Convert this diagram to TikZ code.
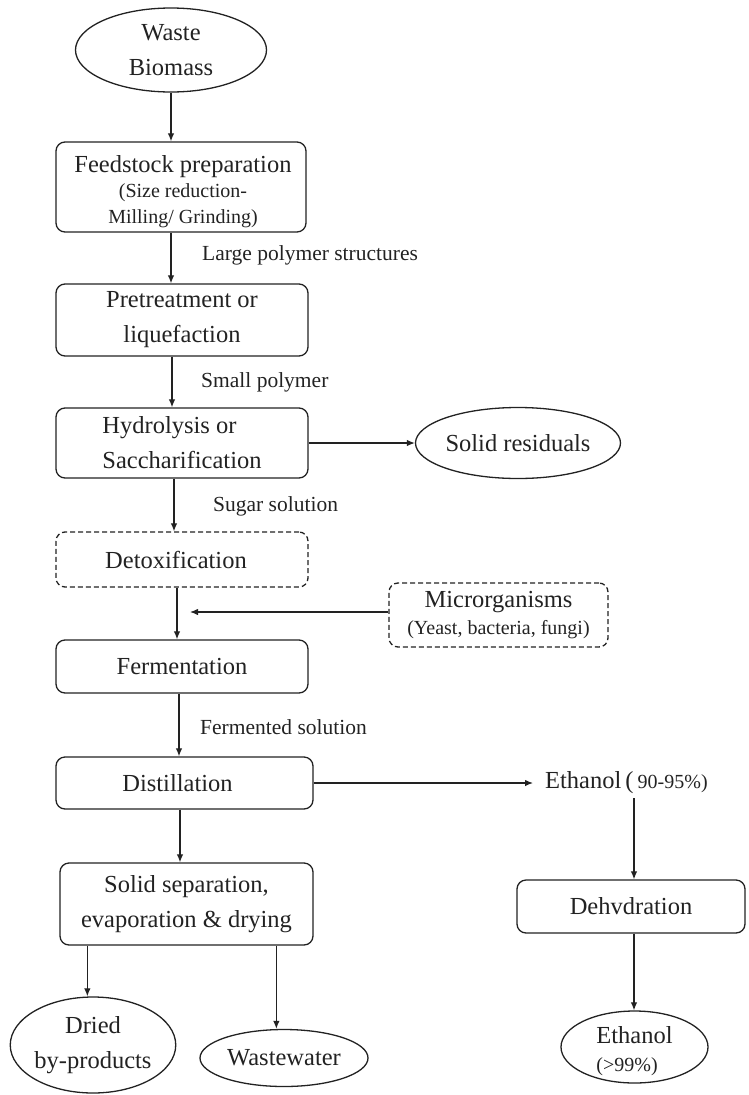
\documentclass[tikz,border=0pt]{standalone}
\usepackage{fontspec}
\setmainfont{Liberation Serif}
\usetikzlibrary{shapes.geometric,arrows.meta}
\newcommand\mainsz{\fontsize{24.5}{35}\selectfont}
\newcommand\labsz{\fontsize{21.5}{26}\selectfont}
\newcommand\subsz{\fontsize{20}{23}\selectfont}
\definecolor{ink}{HTML}{222222}
\tikzset{
  box/.style={draw=ink, text=ink, line width=1.3pt, rounded corners=9pt, inner sep=0pt, align=center, font=\mainsz},
  dbox/.style={box, dash pattern=on 5pt off 3pt},
  ell/.style={draw=ink, text=ink, line width=1.3pt, ellipse, inner sep=0pt, align=center, font=\mainsz},
  lab/.style={anchor=west, inner sep=0pt, text=ink, font=\labsz},
  arr/.style={draw=ink, line width=1.2pt, -{Latex[length=8pt,width=6.5pt]}},
}
\begin{document}
\begin{tikzpicture}[x=1pt,y=-1pt]
\useasboundingbox (0,0) rectangle (748,1095);
% nodes
\node[ell, minimum width=191pt, minimum height=84pt] (wb) at (171,50) {Waste\\Biomass};
\node[box, minimum width=250pt, minimum height=90pt] (feed) at (181,187) {};
\node[text=ink, font=\mainsz, align=center, inner sep=0pt] (feedtxt) at (183,192)
  {Feedstock preparation\\[-10pt]\subsz (Size reduction-\\[-9pt]\subsz Milling/ Grinding)};
\node[box, minimum width=252pt, minimum height=72pt] (pre) at (182,320) {Pretreatment or\\liquefaction};
\node[box, minimum width=252pt, minimum height=70pt, align=left] (hyd) at (182,443) {Hydrolysis or\\Saccharification};
\node[ell, minimum width=180pt, minimum height=71pt] (sol) at (518,443) {Solid residuals};
\node[dbox, minimum width=252pt, minimum height=55pt] (detox) at (182,559.5) {\hspace*{-12pt}Detoxification};
\node[dbox, minimum width=219pt, minimum height=64pt] (micro) at (498.5,615)
  {Microrganisms\\[-8pt]\subsz (Yeast, bacteria, fungi)};
\node[box, minimum width=252pt, minimum height=53pt] (ferm) at (182,666.5) {Fermentation};
\node[box, minimum width=257pt, minimum height=52pt] (dist) at (184.5,783) {\hspace*{-14pt}Distillation};
\node[lab, font=\mainsz] (eth1) at (545,783) {Ethanol\,(\,{\subsz 90-95\%)}};
\node[box, minimum width=228pt, minimum height=53pt] (dehyd) at (631,906.5) {Dehvdration};
\node[box, minimum width=253pt, minimum height=82pt] (solsep) at (186.5,904) {Solid separation,\\evaporation \& drying};
\node[ell, minimum width=160pt, minimum height=96pt] (dried) at (93,1045) {Dried\\by-products};
\node[ell, minimum width=168pt, minimum height=57pt] (ww) at (284,1058) {Wastewater};
\node[ell, minimum width=147pt, minimum height=72pt] (eth2) at (634.5,1047) {};
\node[text=ink, font=\mainsz, align=left, inner sep=0pt] (eth2txt) at (634.5,1051) {Ethanol\\[-7pt]\subsz (>99\%)};
% labels
\node[lab] (l1) at (202,255) {Large polymer structures};
\node[lab] (l2) at (201,382) {Small polymer};
\node[lab] (l3) at (213,506) {Sugar solution};
\node[lab] (l4) at (200,727) {Fermented solution};
% connectors
\draw[arr] (wb.south) -- (wb.south |- feed.north);
\draw[arr] ([xshift=-10pt]feed.south) -- ([xshift=-10pt]feed.south |- pre.north);
\draw[arr] ([xshift=-10pt]pre.south) -- ([xshift=-10pt]pre.south |- hyd.north);
\draw[arr] (hyd.east) -- (sol.west);
\draw[arr] ([xshift=-8pt]hyd.south) -- ([xshift=-8pt]hyd.south |- detox.north);
\draw[arr] ([xshift=-5pt]detox.south) -- ([xshift=-5pt]detox.south |- ferm.north);
\coordinate (mtip) at ([xshift=8pt]detox.south |- micro.west);
\draw[arr] ([yshift=3pt]micro.west) -- ([yshift=3pt]mtip);
\draw[arr] ([xshift=-3pt]ferm.south) -- ([xshift=-3pt]ferm.south |- dist.north);
\draw[arr] (dist.east) -- ([xshift=-12pt]eth1.west);
\draw[arr] ([xshift=-4.5pt]dist.south) -- ([xshift=-4.5pt]dist.south |- solsep.north);
\coordinate (e1b) at (634,798);
\draw[arr] (e1b) -- (e1b |- dehyd.north);
\draw[arr] (e1b |- dehyd.south) -- (e1b |- eth2.north);
\coordinate (sx1) at ([xshift=28pt]solsep.south west);
\coordinate (sx2) at ([xshift=217pt]solsep.south west);
\draw[arr] (sx1) -- (sx1 |- dried.north);
\draw[arr] (sx2) -- (sx2 |- ww.north);
\end{tikzpicture}
\end{document}
